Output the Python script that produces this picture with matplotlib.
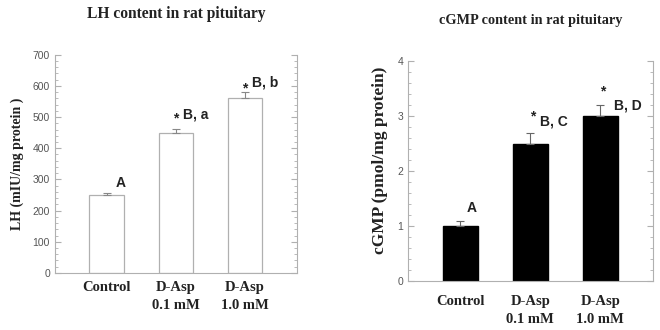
import matplotlib
matplotlib.use('Agg')
import matplotlib.pyplot as plt
from matplotlib.ticker import MultipleLocator

groups = ['Control', 'D-Asp\n0.1 mM', 'D-Asp\n1.0 mM']
lh_values = [250, 450, 560]
lh_errors = [8, 12, 20]
cgmp_values = [1.0, 2.5, 3.0]
cgmp_errors = [0.1, 0.2, 0.2]

serif = ['Liberation Serif', 'DejaVu Serif']
sans = ['Liberation Sans', 'DejaVu Sans']
axis_grey = '#b0b0b0'
tick_grey = '#555555'

fig = plt.figure(figsize=(6.6, 3.3), dpi=100)
ax1 = fig.add_axes([0.083, 0.173, 0.367, 0.661])
ax2 = fig.add_axes([0.618, 0.148, 0.371, 0.667])


def style_axes(ax, ymax, major, minor, ylabel, ylabel_size, xpad,
               title, title_size, title_y):
    x = range(len(groups))
    ax.set_xlim(-0.75, 2.75)
    ax.set_ylim(0, ymax)
    ax.yaxis.set_major_locator(MultipleLocator(major))
    ax.yaxis.set_minor_locator(MultipleLocator(minor))
    ax.spines['top'].set_visible(False)
    for s in ['left', 'right', 'bottom']:
        ax.spines[s].set_color(axis_grey)
        ax.spines[s].set_linewidth(0.8)
    ax.tick_params(axis='y', which='both', direction='in', left=True, right=True,
                   color=axis_grey, labelcolor=tick_grey, labelsize=7.5)
    ax.tick_params(axis='y', which='major', length=4)
    ax.tick_params(axis='y', which='minor', length=2)
    ax.tick_params(axis='x', length=0, pad=xpad)
    ax.set_xticks(list(x))
    ax.set_xticklabels(groups, family=serif, fontweight='bold', fontsize=10.5,
                       color='#222222', linespacing=1.45)
    for lab in ax.get_yticklabels():
        lab.set_family(sans)
    ax.set_ylabel(ylabel, family=serif, fontweight='bold', fontsize=ylabel_size,
                  color='#222222', labelpad=6)
    fig.text(ax.get_position().x0 + ax.get_position().width / 2, title_y, title,
             family=serif, fontweight='bold', fontsize=title_size, ha='center',
             va='center', color='#222222')


x = range(len(groups))
ax1.bar(x, lh_values, width=0.5, color='white', edgecolor=axis_grey, linewidth=0.9)
ax1.errorbar(x, lh_values, yerr=[[0] * 3, lh_errors], fmt='none', ecolor='#888888',
             elinewidth=0.8, capsize=3, capthick=0.8)
style_axes(ax1, 700, 100, 20, 'LH (mIU/mg protein )', 10, 6,
           'LH content in rat pituitary', 11.2, 0.957)

ax2.bar(x, cgmp_values, width=0.5, color='black', edgecolor='black')
ax2.errorbar(x, cgmp_values, yerr=[[0] * 3, cgmp_errors], fmt='none', ecolor='#666666',
             elinewidth=0.8, capsize=3, capthick=0.8)
style_axes(ax2, 4, 1, 0.2, 'cGMP (pmol/mg protein)', 12.5, 10,
           'cGMP content in rat pituitary', 10.3, 0.938)
# the reference label sits a bit above the axes centre
ax2.yaxis.set_label_coords(-0.08, 0.55)

ann = dict(family=sans, fontweight='bold', fontsize=10, color='#222222',
           va='center')
ax1.text(0.2, 289, 'A', ha='center', **ann)
ax1.text(1.0, 497, '*', ha='center', **ann)
ax1.text(1.1, 507, 'B, a', ha='left', **ann)
ax1.text(2.0, 592, '*', ha='center', **ann)
ax1.text(2.1, 610, 'B, b', ha='left', **ann)

ax2.text(0.16, 1.33, 'A', ha='center', **ann)
ax2.text(1.03, 3.0, '*', ha='center', **ann)
ax2.text(1.14, 2.9, 'B, C', ha='left', **ann)
ax2.text(2.03, 3.45, '*', ha='center', **ann)
ax2.text(2.2, 3.2, 'B, D', ha='left', **ann)

fig.savefig('out.png', dpi=100, facecolor='white')
